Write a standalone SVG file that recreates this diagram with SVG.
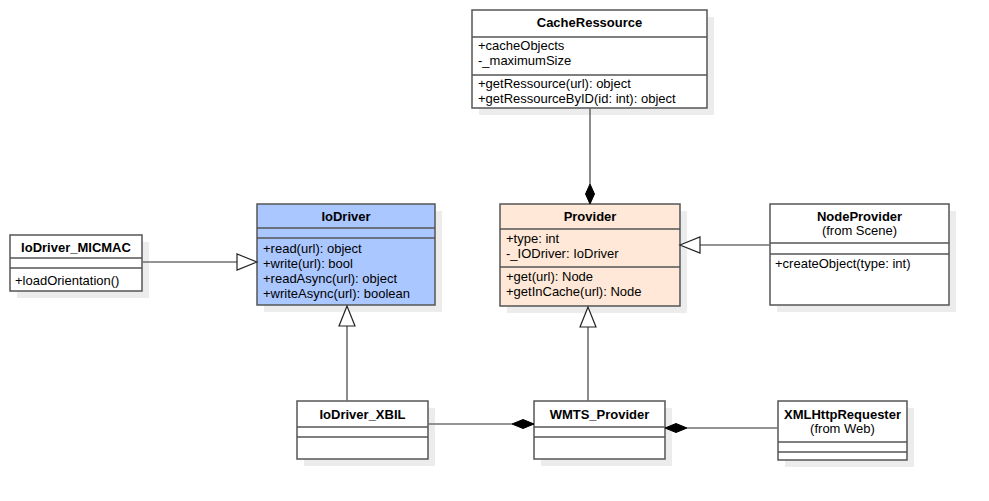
<svg xmlns="http://www.w3.org/2000/svg" width="989" height="501" viewBox="0 0 989 501">
<style>
.sh{fill:#ececec;stroke:none}
.bx{fill:#ffffff;stroke:#555555;stroke-width:1.5}
.sep{stroke:#555555;stroke-width:1.5}
.t{font-family:"Liberation Sans",Arial,sans-serif;font-size:13px;font-weight:bold;fill:#000;text-anchor:middle}
.s{font-family:"Liberation Sans",Arial,sans-serif;font-size:13px;fill:#000;text-anchor:middle}
.m{font-family:"Liberation Sans",Arial,sans-serif;font-size:13px;fill:#000}
.ln{stroke:#707070;stroke-width:1.6;fill:none}
.tri{fill:#ffffff;stroke:#222;stroke-width:1.2}
.dia{fill:#000;stroke:#000;stroke-width:1}
</style>
<rect width="989" height="501" fill="#ffffff"/>

<g id="CacheRessource">
<rect class="sh" x="479" y="17" width="235" height="98"/>
<rect class="bx" x="472" y="10" width="235" height="98"/>
<line class="sep" x1="472" y1="37" x2="707" y2="37"/>
<line class="sep" x1="472" y1="75" x2="707" y2="75"/>
<text class="t" x="589.5" y="27">CacheRessource</text>
<text class="m" x="478" y="50">+cacheObjects</text>
<text class="m" x="478" y="65">-_maximumSize</text>
<text class="m" x="478" y="88">+getRessource(url): object</text>
<text class="m" x="478" y="103">+getRessourceByID(id: int): object</text>
</g>

<g id="IoDriver">
<rect class="sh" x="264" y="211" width="178" height="101"/>
<rect class="bx" x="257" y="204" width="178" height="101" style="fill:#abc7ff"/>
<line class="sep" x1="257" y1="228" x2="435" y2="228"/>
<line class="sep" x1="257" y1="238" x2="435" y2="238"/>
<text class="t" x="346" y="221">IoDriver</text>
<text class="m" x="263" y="253">+read(url): object</text>
<text class="m" x="263" y="268">+write(url): bool</text>
<text class="m" x="263" y="283">+readAsync(url): object</text>
<text class="m" x="263" y="298">+writeAsync(url): boolean</text>
</g>

<g id="Provider">
<rect class="sh" x="507" y="211" width="180" height="102"/>
<rect class="bx" x="500" y="204" width="180" height="102" style="fill:#ffe8d7"/>
<line class="sep" x1="500" y1="229" x2="680" y2="229"/>
<line class="sep" x1="500" y1="267" x2="680" y2="267"/>
<text class="t" x="590" y="221">Provider</text>
<text class="m" x="506" y="243">+type: int</text>
<text class="m" x="506" y="258">-_IODriver: IoDriver</text>
<text class="m" x="506" y="281">+get(url): Node</text>
<text class="m" x="506" y="296">+getInCache(url): Node</text>
</g>

<g id="IoDriver_MICMAC">
<rect class="sh" x="17" y="242" width="132" height="56"/>
<rect class="bx" x="10" y="235" width="132" height="56"/>
<line class="sep" x1="10" y1="258" x2="142" y2="258"/>
<line class="sep" x1="10" y1="268" x2="142" y2="268"/>
<text class="t" x="76" y="252">IoDriver_MICMAC</text>
<text class="m" x="15" y="285">+loadOrientation()</text>
</g>

<g id="NodeProvider">
<rect class="sh" x="777" y="211" width="179" height="101"/>
<rect class="bx" x="770" y="204" width="179" height="101"/>
<line class="sep" x1="770" y1="243" x2="949" y2="243"/>
<line class="sep" x1="770" y1="254" x2="949" y2="254"/>
<text class="t" x="859.5" y="221">NodeProvider</text>
<text class="s" x="859.5" y="235">(from Scene)</text>
<text class="m" x="775" y="268">+createObject(type: int)</text>
</g>

<g id="IoDriver_XBIL">
<rect class="sh" x="304" y="408" width="131" height="58"/>
<rect class="bx" x="297" y="401" width="131" height="58"/>
<line class="sep" x1="297" y1="427" x2="428" y2="427"/>
<line class="sep" x1="297" y1="437" x2="428" y2="437"/>
<text class="t" x="362.5" y="418.5">IoDriver_XBIL</text>
</g>

<g id="WMTS_Provider">
<rect class="sh" x="541" y="408" width="131" height="58"/>
<rect class="bx" x="534" y="401" width="131" height="58"/>
<line class="sep" x1="534" y1="427" x2="665" y2="427"/>
<line class="sep" x1="534" y1="437" x2="665" y2="437"/>
<text class="t" x="599.5" y="419">WMTS_Provider</text>
</g>

<g id="XMLHttpRequester">
<rect class="sh" x="785" y="408" width="129" height="59"/>
<rect class="bx" x="778" y="401" width="129" height="59"/>
<line class="sep" x1="778" y1="442" x2="907" y2="442"/>
<line class="sep" x1="778" y1="452" x2="907" y2="452"/>
<text class="t" x="842.5" y="418.5">XMLHttpRequester</text>
<text class="s" x="842.5" y="432.5">(from Web)</text>
</g>

<g id="connectors">
<line class="ln" x1="590" y1="108" x2="590" y2="184"/>
<polygon class="dia" points="590,204 594.5,194 590,184 585.5,194"/>

<line class="ln" x1="142" y1="262" x2="237" y2="262"/>
<polygon class="tri" points="257,262 237,254 237,270"/>

<line class="ln" x1="770" y1="245" x2="700" y2="245"/>
<polygon class="tri" points="680,245 700,237 700,253"/>

<line class="ln" x1="347" y1="401" x2="347" y2="326"/>
<polygon class="tri" points="347,306 339,326 355,326"/>

<line class="ln" x1="588" y1="401" x2="588" y2="327"/>
<polygon class="tri" points="588,307 580,327 596,327"/>

<line class="ln" x1="428" y1="424" x2="512" y2="424"/>
<polygon class="dia" points="534,424 523,428.5 512,424 523,419.5"/>

<line class="ln" x1="687" y1="428" x2="778" y2="428"/>
<polygon class="dia" points="665,428 676,423.5 687,428 676,432.5"/>
</g>
</svg>
